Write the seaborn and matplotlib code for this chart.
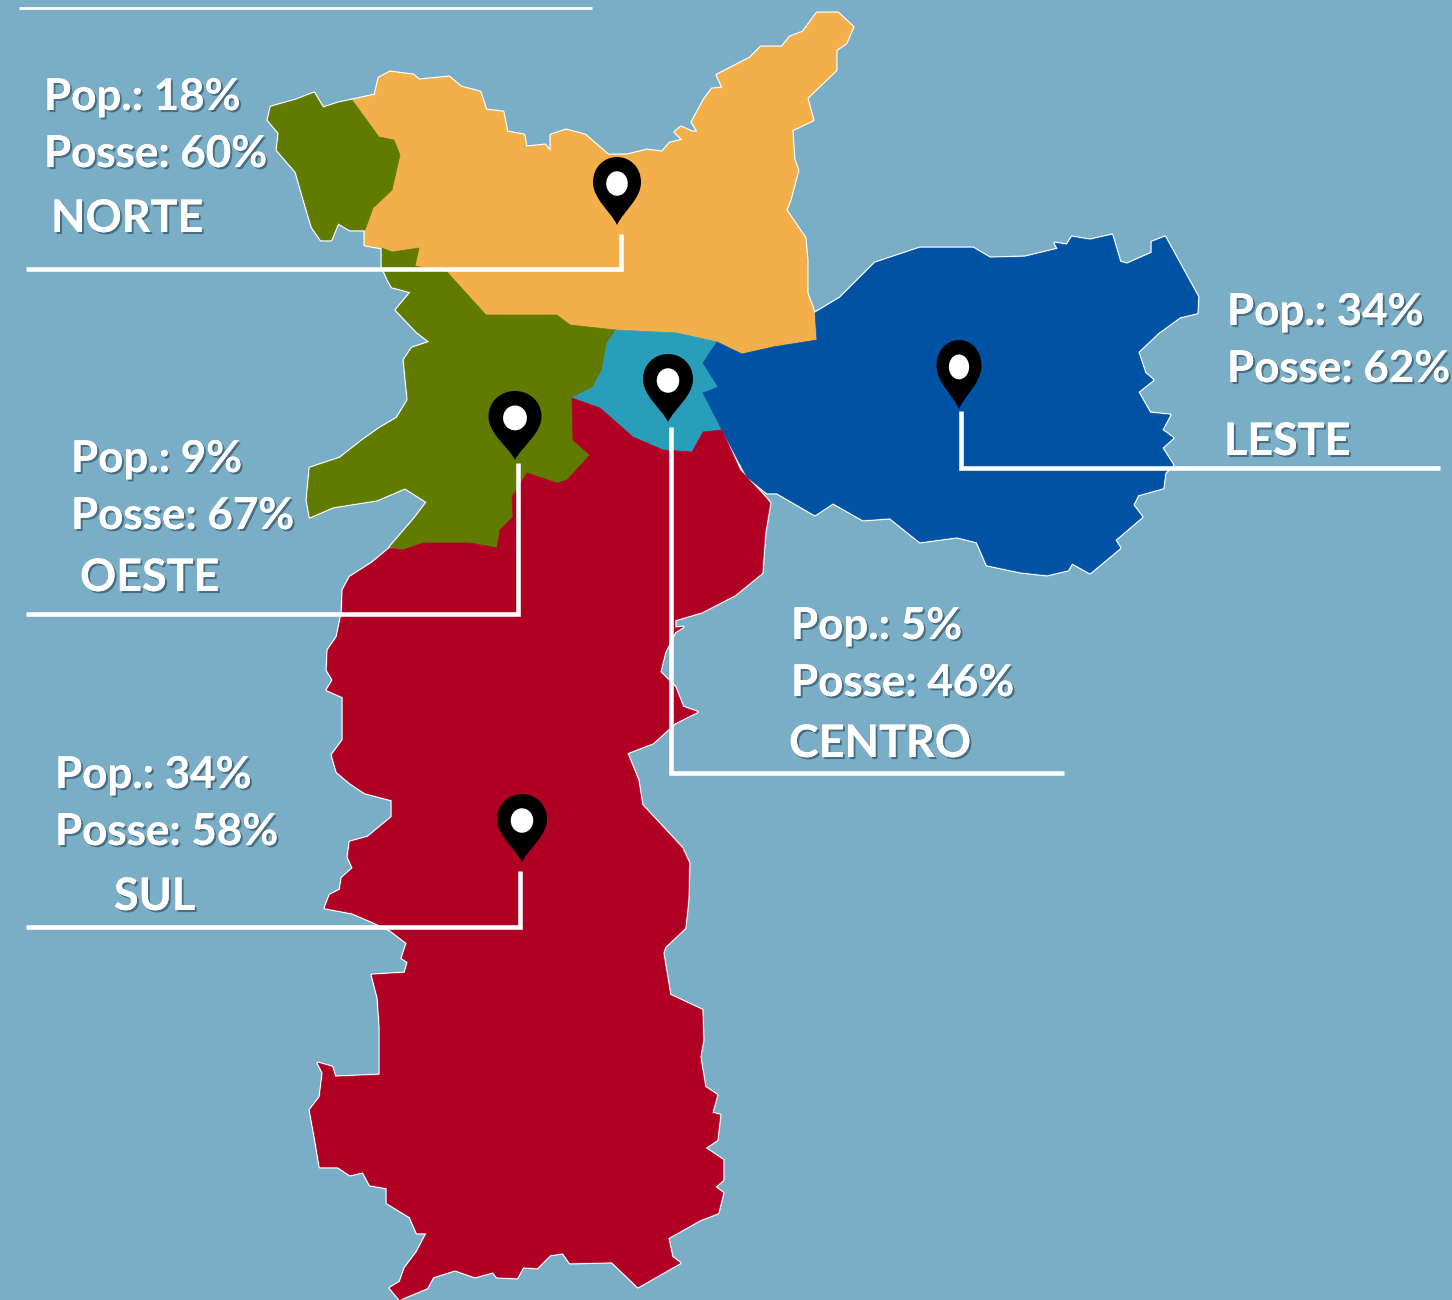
import matplotlib
matplotlib.use("Agg")
import matplotlib.pyplot as plt
import matplotlib.patheffects as pe
from matplotlib.path import Path
from matplotlib.patches import PathPatch, Ellipse
from matplotlib.transforms import Affine2D
import seaborn as sns

# ---- data: labels and values
regions = ["NORTE", "OESTE", "CENTRO", "LESTE", "SUL"]
pop = [18, 9, 5, 34, 34]
posse = [60, 67, 46, 62, 58]

# ---- map outlines (image pixels)
norte_outline = [(352,100),(375,95),(379,78),(390,72),(413,75),(419,80),(449,77),(461,87),(480,92),(486,110),(503,112),(507,132),(524,135),(526,147),(545,145),(551,152),(551,135),(566,130),(585,135),(608,155),(627,155),(647,150),(662,152),(670,143),(683,140),(675,132),(681,127),(692,132),(698,132),(692,122),(704,100),(712,89),(723,88),(717,75),(750,58),(761,47),(782,47),(790,37),(803,32),(817,13),(838,13),(853,27),(846,43),(836,50),(836,70),(807,98),(813,120),(792,130),(794,160),(798,170),(790,200),(786,210),(805,238),(807,260),(807,293),(814,312),(817,340),(773,347),(742,354),(717,342),(677,333),(616,330),(570,325),(557,315),(486,315),(447,272),(415,266),(419,248),(392,252),(382,248),(365,245),(365,230),(373,208),(392,190),(400,155),(394,140),(379,137)]
oeste_nw_outline = [(352,100),(338,103),(323,108),(314,93),(296,100),(271,107),(268,120),(279,133),(277,150),(296,172),(304,200),(312,227),(321,240),(331,240),(338,223),(350,230),(365,230),(373,208),(392,190),(400,155),(394,140),(379,137)]
oeste_outline = [(382,248),(382,266),(388,280),(392,287),(411,292),(396,310),(417,332),(430,342),(412,348),(404,360),(408,400),(397,418),(380,428),(363,440),(340,458),(310,468),(307,500),(310,517),(333,507),(377,500),(405,488),(427,502),(415,518),(390,547),(403,550),(423,543),(470,543),(497,548),(500,530),(513,517),(512,497),(527,473),(557,483),(567,480),(590,455),(573,440),(572,398),(593,387),(602,370),(607,343),(616,330),(570,325),(557,315),(486,315),(447,272),(415,266),(419,248),(392,252)]
centro_outline = [(616,330),(677,333),(717,342),(703,363),(718,387),(703,393),(722,430),(703,432),(692,452),(663,450),(633,437),(600,408),(572,398),(593,387),(602,370),(607,343)]
leste_outline = [(717,342),(742,354),(773,347),(817,340),(815,313),(840,298),(875,263),(920,248),(973,248),(990,258),(1025,257),(1058,249),(1055,243),(1067,245),(1072,237),(1090,240),(1112,235),(1120,262),(1127,264),(1152,253),(1152,242),(1165,237),(1198,297),(1197,313),(1180,317),(1158,333),(1138,352),(1145,373),(1153,380),(1138,392),(1150,413),(1170,415),(1162,430),(1173,438),(1162,448),(1173,465),(1165,473),(1163,488),(1138,495),(1133,505),(1142,517),(1115,540),(1120,548),(1090,573),(1072,563),(1068,570),(1047,575),(1020,572),(987,565),(977,542),(957,537),(920,542),(890,518),(863,520),(833,503),(815,515),(777,493),(767,493),(747,477),(722,430),(703,393),(718,387),(703,363)]
sul_outline = [(722,430),(740,470),(765,497),(770,503),(765,533),(762,573),(735,595),(702,612),(675,620),(675,628),(683,627),(675,632),(665,652),(660,672),(675,687),(683,707),(697,712),(675,723),(653,743),(627,753),(638,780),(642,805),(682,848),(689,863),(688,900),(685,928),(665,947),(663,953),(670,995),(702,1010),(703,1040),(700,1057),(705,1087),(717,1095),(712,1113),(720,1115),(717,1140),(705,1148),(723,1160),(723,1180),(715,1187),(723,1193),(718,1213),(700,1220),(668,1238),(672,1257),(680,1263),(638,1287),(612,1262),(570,1263),(563,1253),(550,1255),(537,1268),(523,1267),(517,1278),(497,1277),(493,1272),(475,1277),(455,1270),(433,1277),(427,1288),(403,1298),(400,1300),(390,1288),(400,1282),(405,1268),(417,1252),(427,1233),(417,1233),(410,1217),(387,1203),(387,1188),(370,1185),(363,1172),(350,1175),(338,1167),(320,1167),(315,1137),(310,1110),(320,1097),(323,1073),(318,1063),(332,1067),(335,1077),(380,1075),(380,1027),(378,998),(372,975),(405,973),(408,962),(402,958),(407,943),(390,930),(373,922),(352,913),(325,908),(330,895),(340,890),(342,878),(353,868),(348,857),(350,842),(368,837),(392,817),(392,800),(365,793),(350,783),(337,772),(332,755),(343,740),(343,697),(327,690),(333,680),(327,670),(328,650),(337,637),(342,613),(343,590),(350,577),(372,563),(390,548),(403,550),(423,543),(470,543),(497,548),(500,530),(513,517),(512,497),(527,473),(557,483),(567,480),(590,455),(573,440),(572,398),(600,408),(633,437),(663,450),(692,452),(703,432)]

map_shapes = [
    (norte_outline, "#F2AF4A"),
    (oeste_nw_outline, "#617A00"),
    (oeste_outline, "#617A00"),
    (centro_outline, "#299EBB"),
    (leste_outline, "#0052A5"),
    (sul_outline, "#B00024"),
]

# ---- leader lines
leaders = [
    ([19, 592], [7.5, 7.5]),
    ([26, 621, 621], [268.5, 268.5, 234]),
    ([26, 518, 518], [613.5, 613.5, 463]),
    ([671, 671, 1064], [427, 772.5, 772.5]),
    ([961, 961, 1440], [411, 467.5, 467.5]),
    ([26, 520, 520], [926.5, 926.5, 871]),
]
leader_widths = [2.0, 3.3, 3.3, 3.3, 3.3, 3.3]

# ---- pins: tip x, tip y, width, height
pins_x = [617, 515, 668, 959, 522]
pins_y = [225, 460, 422, 409, 862]
pins_w = [48, 53, 50, 45, 50]
pins_h = [68, 69, 68, 69, 68]

# ---- text anchors: (x, baseline y) for pop, posse, name
pop_pos = [(44, 110), (71, 472), (791, 639), (1227, 325), (55, 788)]
posse_pos = [(44, 167), (71, 529), (791, 696), (1227, 382), (55, 845)]
name_pos = [(51, 232), (80, 591), (789, 757), (1224, 455), (114, 910)]

sns.set_theme(style="white")
plt.rcParams["font.family"] = ["Lato", "DejaVu Sans"]

BG = "#7AAEC6"
fig = plt.figure(figsize=(14.52, 13.0), dpi=100, facecolor=BG)
ax = fig.add_axes([0, 0, 1, 1], facecolor=BG)
ax.set_xlim(0, 1452)
ax.set_ylim(1300, 0)
ax.axis("off")

# white coast first, fills on top so that only the outer edge stays white
for outline, colour in map_shapes:
    xs, ys = zip(*outline)
    ax.fill(xs, ys, facecolor="white", edgecolor="white", linewidth=2.2, joinstyle="round", zorder=1)
for outline, colour in map_shapes:
    xs, ys = zip(*outline)
    ax.fill(xs, ys, facecolor=colour, edgecolor=colour, linewidth=0.5, zorder=2)

for (lx, ly), lw in zip(leaders, leader_widths):
    sns.lineplot(x=lx, y=ly, sort=False, estimator=None, color="white",
                 linewidth=lw, ax=ax, zorder=4, legend=False,
                 solid_joinstyle="miter", solid_capstyle="butt")
ax.set_xlim(0, 1452)
ax.set_ylim(1300, 0)
ax.set_xlabel("")
ax.set_ylabel("")

# teardrop, unit box: x in -0.5..0.5, y from tip 0 to top 1
pin_verts = [(0, 0), (-0.13, 0.2), (-0.5, 0.38), (-0.5, 0.63), (-0.5, 0.85), (-0.27, 1.0), (0, 1.0),
             (0.27, 1.0), (0.5, 0.85), (0.5, 0.63), (0.5, 0.38), (0.13, 0.2), (0, 0), (0, 0)]
pin_codes = [Path.MOVETO, Path.CURVE4, Path.CURVE4, Path.CURVE4, Path.CURVE4, Path.CURVE4, Path.CURVE4,
             Path.CURVE4, Path.CURVE4, Path.CURVE4, Path.CURVE4, Path.CURVE4, Path.CURVE4, Path.CLOSEPOLY]
pin_path = Path(pin_verts, pin_codes)
for px, py, pw, ph in zip(pins_x, pins_y, pins_w, pins_h):
    tr = Affine2D().scale(pw, -ph).translate(px, py)
    ax.add_patch(PathPatch(pin_path.transformed(tr), facecolor="black", edgecolor="none", zorder=5))
    ax.add_patch(Ellipse((px, py - ph * 0.61), pw * 0.45, ph * 0.36, facecolor="white", edgecolor="none", zorder=6))

shadow = [pe.withSimplePatchShadow(offset=(1.5, -1.5), shadow_rgbFace="#1F3A4D", alpha=0.55), pe.Normal()]
txt = dict(color="white", va="baseline", ha="left", fontweight="bold", zorder=7, path_effects=shadow)
for i, name in enumerate(regions):
    ax.text(*pop_pos[i], f"Pop.: {pop[i]}%", fontsize=31.6, **txt)
    ax.text(*posse_pos[i], f"Posse: {posse[i]}%", fontsize=31.6, **txt)
    ax.text(*name_pos[i], name, fontsize=32.3, **txt)

fig.savefig("out.png", dpi=100, facecolor=BG)
